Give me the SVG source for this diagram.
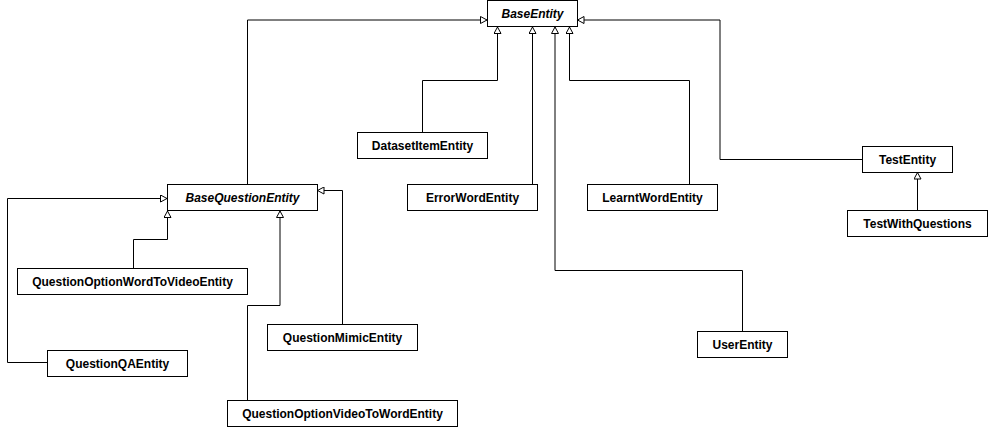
<svg xmlns="http://www.w3.org/2000/svg" width="989" height="427" viewBox="0 0 989 427">
<style>
.box{fill:#fff;stroke:#000;stroke-width:1}
.lbl{font-family:"Liberation Sans",Arial,sans-serif;font-size:12px;font-weight:bold;text-anchor:middle;fill:#000}
.abs{font-style:italic}
.edge{fill:none;stroke:#000;stroke-width:1;marker-end:url(#tri)}
</style>
<defs>
<marker id="tri" viewBox="0 0 8 8" refX="7.5" refY="4" markerWidth="8" markerHeight="8" markerUnits="userSpaceOnUse" orient="auto">
<path d="M1,0.5 L7.5,4 L1,7.5 Z" fill="#fff" stroke="#000" stroke-width="1"/>
</marker>
</defs>
<rect width="989" height="427" fill="#fff"/>
<g id="connectors">
<path class="edge" d="M247.5,184 V20 H487"/>
<path class="edge" d="M422.5,132 V80.5 H497.5 V27"/>
<path class="edge" d="M532.5,184 V27"/>
<path class="edge" d="M742.5,331 V270.5 H555 V27"/>
<path class="edge" d="M689.5,184 V80.5 H569.5 V27"/>
<path class="edge" d="M862,159.5 H720 V20 H577.5"/>
<path class="edge" d="M917.5,210 V172.5"/>
<path class="edge" d="M133.5,268 V239.5 H167.5 V211"/>
<path class="edge" d="M247.5,400 V305.5 H280 V211"/>
<path class="edge" d="M342.5,324 V190.5 H317.5"/>
<path class="edge" d="M47,362.5 H7.5 V198.5 H167"/>
</g>
<g id="BaseEntity"><rect class="box" x="487.5" y="0.5" width="90" height="26"/><text class="lbl abs" x="532.5" y="18">BaseEntity</text></g>
<g id="DatasetItemEntity"><rect class="box" x="357.5" y="132.5" width="130" height="26"/><text class="lbl" x="422.5" y="150">DatasetItemEntity</text></g>
<g id="ErrorWordEntity"><rect class="box" x="407.5" y="184.5" width="130" height="26"/><text class="lbl" x="472.5" y="202">ErrorWordEntity</text></g>
<g id="LearntWordEntity"><rect class="box" x="587.5" y="184.5" width="130" height="26"/><text class="lbl" x="652.5" y="202">LearntWordEntity</text></g>
<g id="TestEntity"><rect class="box" x="862.5" y="146.5" width="90" height="26"/><text class="lbl" x="907.5" y="164">TestEntity</text></g>
<g id="TestWithQuestions"><rect class="box" x="847.5" y="210.5" width="140" height="26"/><text class="lbl" x="917.5" y="228">TestWithQuestions</text></g>
<g id="UserEntity"><rect class="box" x="697.5" y="331.5" width="90" height="26"/><text class="lbl" x="742.5" y="349">UserEntity</text></g>
<g id="BaseQuestionEntity"><rect class="box" x="167.5" y="184.5" width="150" height="26"/><text class="lbl abs" x="242.5" y="202">BaseQuestionEntity</text></g>
<g id="QuestionOptionWordToVideoEntity"><rect class="box" x="17.5" y="268.5" width="230" height="26"/><text class="lbl" x="132.5" y="286">QuestionOptionWordToVideoEntity</text></g>
<g id="QuestionMimicEntity"><rect class="box" x="267.5" y="324.5" width="150" height="26"/><text class="lbl" x="342.5" y="342">QuestionMimicEntity</text></g>
<g id="QuestionQAEntity"><rect class="box" x="47.5" y="350.5" width="140" height="26"/><text class="lbl" x="117.5" y="368">QuestionQAEntity</text></g>
<g id="QuestionOptionVideoToWordEntity"><rect class="box" x="227.5" y="400.5" width="230" height="26"/><text class="lbl" x="342.5" y="418">QuestionOptionVideoToWordEntity</text></g>
</svg>
